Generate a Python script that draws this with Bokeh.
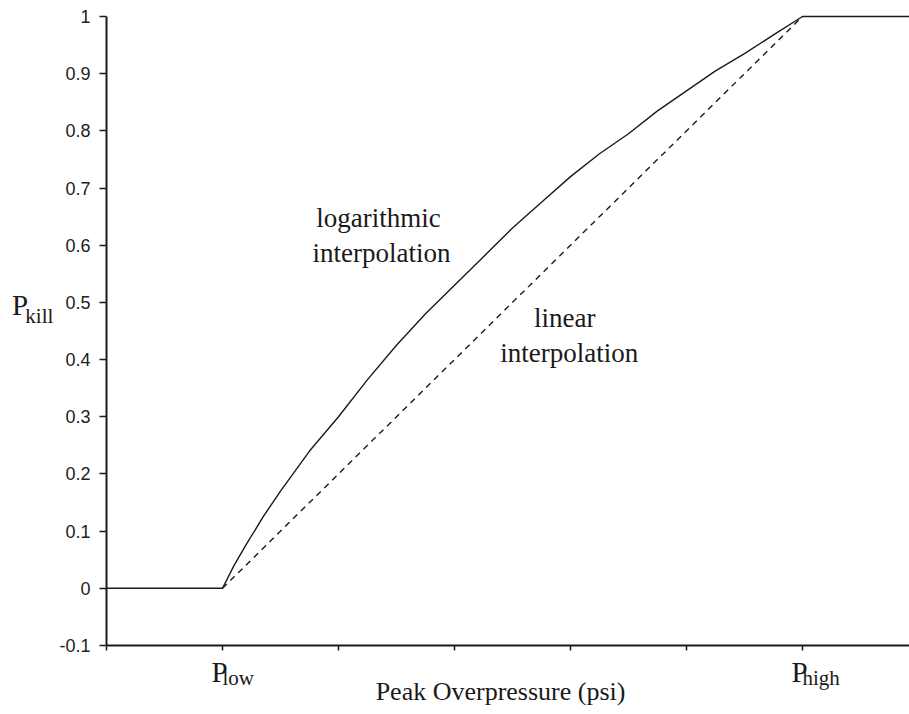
from bokeh.plotting import figure
from bokeh.models import FixedTicker, Label, Range1d, LinearAxis
from bokeh.embed import file_html
from bokeh.resources import INLINE

# --- data ---
flat_low_x = [0.0, 1.0]
flat_low_y = [0.0, 0.0]
log_x = [1.0, 1.1, 1.2, 1.35, 1.5, 1.75, 2.0, 2.25, 2.5, 2.75, 3.0, 3.25,
         3.5, 3.75, 4.0, 4.25, 4.5, 4.75, 5.0, 5.25, 5.5, 5.75, 6.0]
log_y = [0.0, 0.04, 0.075, 0.125, 0.17, 0.24, 0.30, 0.365, 0.425, 0.48, 0.53, 0.58,
         0.63, 0.675, 0.72, 0.76, 0.795, 0.835, 0.87, 0.905, 0.935, 0.968, 1.0]
flat_high_x = [6.0, 6.92]
flat_high_y = [1.0, 1.0]
lin_x = [1.0, 6.0]
lin_y = [0.0, 1.0]

y_ticks = [-0.1, 0, 0.1, 0.2, 0.3, 0.4, 0.5, 0.6, 0.7, 0.8, 0.9, 1]
y_tick_labels = ["-0.1", "0", "0.1", "0.2", "0.3", "0.4", "0.5", "0.6", "0.7", "0.8", "0.9", "1"]
x_ticks = [0, 1, 2, 3, 4, 5, 6]

SERIF = "Liberation Serif"
SANS = "Liberation Sans"
INK = "#1a1a1a"

p = figure(width=909, height=714, output_backend="svg", toolbar_location=None,
           x_range=Range1d(-0.9138, 6.9224), y_range=Range1d(-0.2207, 1.028),
           x_axis_location=None, y_axis_location=None,
           min_border_left=0, min_border_right=0, min_border_top=0, min_border_bottom=0)
p.outline_line_color = None
p.xgrid.visible = False
p.ygrid.visible = False
p.background_fill_color = "white"
p.border_fill_color = "white"

solid_x = flat_low_x + log_x[1:] + flat_high_x[1:]
solid_y = flat_low_y + log_y[1:] + flat_high_y[1:]
p.line(solid_x, solid_y, line_color=INK, line_width=1.4)
p.line(lin_x, lin_y, line_color=INK, line_width=1.4, line_dash="6 5")

# y axis
ya = LinearAxis(fixed_location=0, bounds=(-0.1, 1.0))
ya.ticker = FixedTicker(ticks=y_ticks)
ya.major_label_overrides = {t: s for t, s in zip(y_ticks, y_tick_labels)}
ya.minor_tick_line_color = None
ya.major_tick_in = 0
ya.major_tick_out = 7
ya.axis_line_width = 2
ya.axis_line_color = INK
ya.major_tick_line_width = 1.5
ya.major_tick_line_color = INK
ya.major_label_text_font = SANS
ya.major_label_text_font_size = "18px"
ya.major_label_text_color = "#222222"
ya.major_label_standoff = 9
p.add_layout(ya, "left")

# x axis
xa = LinearAxis(fixed_location=-0.1, bounds=(0, 6.9224))
xa.ticker = FixedTicker(ticks=x_ticks)
xa.major_label_overrides = {t: "" for t in x_ticks}
xa.minor_tick_line_color = None
xa.major_tick_in = 0
xa.major_tick_out = 5
xa.axis_line_width = 2
xa.axis_line_color = INK
xa.major_tick_line_width = 1.5
xa.major_tick_line_color = INK
p.add_layout(xa, "below")

def lab(x, y, t, size, align="left"):
    p.add_layout(Label(x=x, y=y, text=t, text_font=SERIF, text_font_size=size,
                       text_color=INK, text_align=align, text_baseline="alphabetic"))

# axis titles with subscripts
lab(-0.815, 0.4946, "P", "29px")
lab(-0.70, 0.4754, "kill", "21px")
lab(0.905, -0.1455, "P", "29px")
lab(1.0, -0.1577, "low", "21px")
lab(5.905, -0.1455, "P", "29px")
lab(6.0, -0.1577, "high", "21px")
lab(3.397, -0.1804, "Peak Overpressure (psi)", "26px", "center")

# curve annotations
lab(2.345, 0.6468, "logarithmic", "27px", "center")
lab(2.37, 0.5856, "interpolation", "27px", "center")
lab(3.95, 0.4736, "linear", "27px", "center")
lab(3.99, 0.4107, "interpolation", "27px", "center")

open("out.html", "w").write(file_html(p, INLINE))
